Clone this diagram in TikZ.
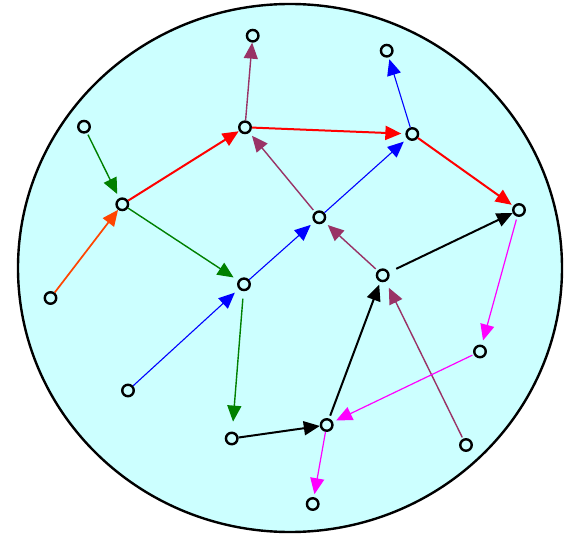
\documentclass[tikz,border=0pt]{standalone}
\usetikzlibrary{arrows.meta}
\definecolor{bgcyan}{HTML}{CCFFFF}
\definecolor{plum}{HTML}{993366}
\definecolor{orred}{HTML}{FF4500}
\definecolor{dgreen}{HTML}{008000}
\definecolor{pureblue}{HTML}{0000FF}
\definecolor{purered}{HTML}{FF0000}
\definecolor{puremag}{HTML}{FF00FF}
\begin{document}
\begin{tikzpicture}[x=1pt,y=-1pt,
  pt/.style={circle,draw=black,line width=2.4pt,minimum size=11.5pt,inner sep=0pt},
  edge/.style={-{Triangle[length=16pt,width=14pt]},line width=1.4pt},
  thick edge/.style={edge,line width=2pt}]
\useasboundingbox (0,0) rectangle (569,534);
\draw[fill=bgcyan,line width=2.4pt] (290,268) ellipse [x radius=272, y radius=264];
\node[pt] (n1) at (252.7,35.7) {};
\node[pt] (n2) at (386.7,50.7) {};
\node[pt] (n3) at (84,126.7) {};
\node[pt] (n4) at (245,127.3) {};
\node[pt] (n5) at (412.3,134) {};
\node[pt] (n6) at (122.3,204.3) {};
\node[pt] (n7) at (319.3,217.3) {};
\node[pt] (n8) at (519,210) {};
\node[pt] (n9) at (50.5,298) {};
\node[pt] (n10) at (244,284.3) {};
\node[pt] (n11) at (382.7,275.3) {};
\node[pt] (n12) at (480,351.5) {};
\node[pt] (n13) at (128,390.5) {};
\node[pt] (n14) at (231.7,438.5) {};
\node[pt] (n15) at (326.7,425) {};
\node[pt] (n16) at (466,445) {};
\node[pt] (n17) at (312.7,504) {};
% purple
\draw[edge,plum,shorten >=0pt] (n4) -- (n1);
\draw[edge,plum,shorten >=4pt,shorten <=2.5pt] (n7) -- (n4);
\draw[edge,plum,shorten >=4.5pt,shorten <=2.5pt] (n11) -- (n7);
\draw[edge,plum,shorten >=7pt,shorten <=1.5pt] (n16) -- (n11);
% blue
\draw[edge,pureblue,line width=1.1pt,shorten >=2pt] (n5) -- (n2);
\draw[edge,pureblue,line width=1.1pt,shorten >=4.5pt] (n7) -- (n5);
\draw[edge,pureblue,line width=1.1pt,shorten >=4.5pt] (n10) -- (n7);
\draw[edge,pureblue,line width=1.1pt,shorten >=5.5pt] (n13) -- (n10);
% green
\draw[edge,dgreen,shorten >=4.5pt,shorten <=2pt] (n3) -- (n6);
\draw[edge,dgreen,shorten >=5.5pt] (n6) -- (n10);
\draw[edge,dgreen,shorten >=10pt,shorten <=7.5pt] (n10) -- (n14);
% red
\draw[thick edge,purered,shorten >=0.5pt] (n6) -- (n4);
\draw[thick edge,purered,shorten >=4pt] (n4) -- (n5);
\draw[thick edge,purered,shorten >=2pt] (n5) -- (n8);
\draw[edge,orred,line width=1.7pt,shorten >=0pt] (n9) -- (n6);
% black
\draw[thick edge,black,shorten >=0pt,shorten <=8pt] (n11) -- (n8);
\draw[thick edge,black,shorten >=0pt] (n14) -- (n15);
\draw[thick edge,black,shorten >=3pt,shorten <=3pt] (n15) -- (n11);
% magenta
\draw[edge,puremag,line width=1.2pt,shorten >=4.5pt,shorten <=3pt] (n8) -- (n12);
\draw[edge,puremag,line width=1.2pt,shorten >=3.5pt,shorten <=1.5pt] (n12) -- (n15);
\draw[edge,puremag,line width=1.2pt,shorten >=3pt] (n15) -- (n17);
\end{tikzpicture}
\end{document}
